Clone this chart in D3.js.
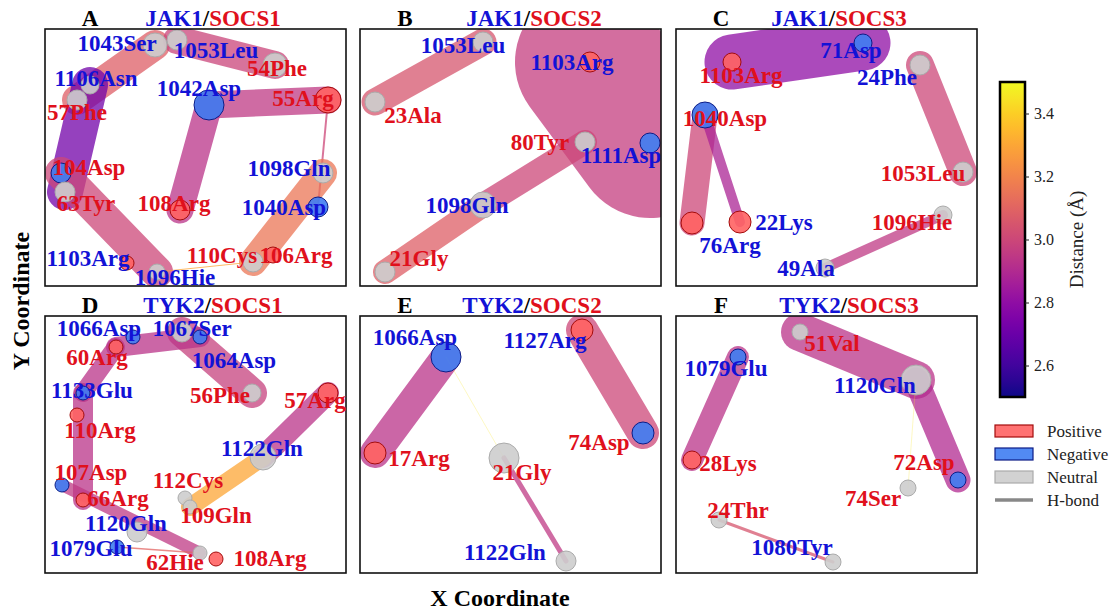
<!DOCTYPE html>
<html><head><meta charset="utf-8">
<script src="https://cdn.jsdelivr.net/npm/d3@7"></script>
<style>
body{margin:0;background:#fff}
svg{display:block}
text{font-family:"Liberation Serif","Times New Roman",serif}
</style>
</head><body>
<svg id="chart" width="1117" height="612"></svg>
<script>
// Residue contact maps: node = residue (x, y coordinate, contact size, charge,
// protein side 'k' = kinase label colour / 's' = SOCS label colour, label anchor lx, ly)
const nodesA = [
  {id:"1043Ser", x:110, y:241, n:12, q:"neu", s:"k", lx:72,  ly:243},
  {id:"1053Leu", x:132, y:246, n:10, q:"neu", s:"k", lx:171, ly:236},
  {id:"54Phe",   x:230, y:221, n:12, q:"neu", s:"s", lx:232, ly:218},
  {id:"1106Asn", x:45,  y:201, n:9,  q:"neu", s:"k", lx:51,  ly:208},
  {id:"57Phe",   x:32,  y:186, n:10, q:"neu", s:"s", lx:32,  ly:174},
  {id:"1042Asp", x:164, y:181, n:15, q:"neg", s:"k", lx:154, ly:198},
  {id:"55Arg",   x:283, y:186, n:13, q:"pos", s:"s", lx:258, ly:188},
  {id:"104Asp",  x:16,  y:113, n:10, q:"neg", s:"s", lx:44,  ly:119},
  {id:"63Tyr",   x:20,  y:94,  n:10, q:"neu", s:"s", lx:41,  ly:83},
  {id:"108Arg",  x:135, y:76,  n:10, q:"pos", s:"s", lx:129, ly:83},
  {id:"1098Gln", x:278, y:113, n:10, q:"neu", s:"k", lx:244, ly:118},
  {id:"1040Asp", x:273, y:79,  n:10, q:"neg", s:"k", lx:239, ly:79},
  {id:"110Cys",  x:208, y:24,  n:10, q:"neu", s:"s", lx:177, ly:31},
  {id:"106Arg",  x:228, y:31,  n:8,  q:"pos", s:"s", lx:251, ly:31},
  {id:"1103Arg", x:82,  y:23,  n:7,  q:"pos", s:"k", lx:43,  ly:28},
  {id:"1096Hie", x:112, y:14,  n:8,  q:"neu", s:"k", lx:130, ly:9}
];
// Contacts: mean distance (Å) and contact weight
const edgesA = [
  {a:"1043Ser", b:"57Phe",   d:3.08, w:30},
  {a:"1053Leu", b:"54Phe",   d:2.99, w:28},
  {a:"1106Asn", b:"63Tyr",   d:2.72, w:36},
  {a:"104Asp",  b:"1096Hie", d:3.0,  w:32},
  {a:"1042Asp", b:"55Arg",   d:2.95, w:27},
  {a:"1042Asp", b:"108Arg",  d:2.93, w:27},
  {a:"55Arg",   b:"1040Asp", d:3.0,  w:2},
  {a:"1098Gln", b:"110Cys",  d:3.16, w:28},
  {a:"1096Hie", b:"110Cys",  d:3.3,  w:1}
];

const nodesB = [
  {id:"1053Leu", x:123, y:244, n:10, q:"neu", s:"k", lx:103, ly:241},
  {id:"1103Arg", x:230, y:224, n:10, q:"pos", s:"k", lx:212, ly:224},
  {id:"23Ala",   x:15,  y:184, n:10, q:"neu", s:"s", lx:53,  ly:171},
  {id:"80Tyr",   x:225, y:144, n:10, q:"neu", s:"s", lx:180, ly:144},
  {id:"1111Asp", x:290, y:143, n:10, q:"neg", s:"k", lx:261, ly:131},
  {id:"1098Gln", x:123, y:81,  n:13, q:"neu", s:"k", lx:107, ly:81},
  {id:"21Gly",   x:25,  y:14,  n:10, q:"neu", s:"s", lx:59,  ly:28}
];
const edgesB = [
  {a:"1053Leu", b:"23Ala",   d:3.05, w:27},
  {a:"1103Arg", b:"1111Asp", d:2.97, w:150},
  {a:"80Tyr",   b:"1098Gln", d:3.0,  w:24},
  {a:"1098Gln", b:"21Gly",   d:3.08, w:24}
];

const nodesC = [
  {id:"71Asp",   x:187, y:243, n:9,  q:"neg", s:"k", lx:175, ly:236},
  {id:"1103Arg", x:56,  y:224, n:9,  q:"pos", s:"s", lx:65,  ly:211},
  {id:"24Phe",   x:244, y:221, n:10, q:"neu", s:"k", lx:211, ly:209},
  {id:"1040Asp", x:29,  y:171, n:13, q:"neg", s:"s", lx:49,  ly:168},
  {id:"1053Leu", x:287, y:114, n:10, q:"neu", s:"s", lx:247, ly:113},
  {id:"76Arg",   x:16,  y:63,  n:11, q:"pos", s:"k", lx:54,  ly:41},
  {id:"22Lys",   x:64,  y:64,  n:11, q:"pos", s:"k", lx:108, ly:64},
  {id:"1096Hie", x:267, y:71,  n:9,  q:"neu", s:"s", lx:236, ly:64},
  {id:"49Ala",   x:149, y:18,  n:9,  q:"neu", s:"k", lx:130, ly:18}
];
const edgesC = [
  {a:"1103Arg", b:"71Asp",   d:2.8,  w:55},
  {a:"24Phe",   b:"1053Leu", d:3.0,  w:28},
  {a:"1040Asp", b:"76Arg",   d:3.0,  w:25},
  {a:"1040Asp", b:"22Lys",   d:2.88, w:10},
  {a:"1096Hie", b:"49Ala",   d:2.95, w:10}
];

const nodesD = [
  {id:"1066Asp", x:88,  y:236, n:7,  q:"neg", s:"k", lx:54,  ly:245},
  {id:"1067Ser", x:137, y:241, n:10, q:"neu", s:"k", lx:147, ly:245},
  {id:"1064Asp", x:155, y:236, n:7,  q:"neg", s:"k", lx:189, ly:213},
  {id:"60Arg",   x:71,  y:226, n:7,  q:"pos", s:"s", lx:52,  ly:216},
  {id:"56Phe",   x:207, y:180, n:9,  q:"neu", s:"s", lx:175, ly:178},
  {id:"57Arg",   x:283, y:180, n:10, q:"pos", s:"s", lx:270, ly:173},
  {id:"1133Glu", x:38,  y:180, n:7,  q:"neg", s:"k", lx:47,  ly:183},
  {id:"110Arg",  x:32,  y:158, n:7,  q:"pos", s:"s", lx:55,  ly:143},
  {id:"1122Gln", x:218, y:116, n:13, q:"neu", s:"k", lx:217, ly:125},
  {id:"107Asp",  x:17,  y:88,  n:7,  q:"neg", s:"s", lx:46,  ly:101},
  {id:"66Arg",   x:38,  y:73,  n:7,  q:"pos", s:"s", lx:73,  ly:75},
  {id:"112Cys",  x:140, y:75,  n:7,  q:"neu", s:"s", lx:143, ly:93},
  {id:"109Gln",  x:145, y:66,  n:7,  q:"neu", s:"s", lx:171, ly:58},
  {id:"1120Gln", x:92,  y:41,  n:10, q:"neu", s:"k", lx:81,  ly:50},
  {id:"1079Glu", x:72,  y:26,  n:7,  q:"neg", s:"k", lx:46,  ly:25},
  {id:"62Hie",   x:155, y:20,  n:7,  q:"neu", s:"s", lx:130, ly:11},
  {id:"108Arg",  x:171, y:14,  n:7,  q:"pos", s:"s", lx:225, ly:15}
];
const edgesD = [
  {a:"1067Ser", b:"56Phe",   d:2.98, w:30},
  {a:"60Arg",   b:"1064Asp", d:2.93, w:20},
  {a:"60Arg",   b:"1133Glu", d:2.93, w:18},
  {a:"1133Glu", b:"66Arg",   d:2.93, w:20},
  {a:"57Arg",   b:"1122Gln", d:2.93, w:22},
  {a:"1122Gln", b:"109Gln",  d:3.3,  w:18},
  {a:"107Asp",  b:"62Hie",   d:2.95, w:12},
  {a:"1079Glu", b:"62Hie",   d:3.1,  w:1.5}
];

const nodesE = [
  {id:"1066Asp", x:86,  y:216, n:15, q:"neg", s:"k", lx:55,  ly:236},
  {id:"1127Arg", x:222, y:243, n:11, q:"pos", s:"k", lx:185, ly:233},
  {id:"74Asp",   x:283, y:140, n:11, q:"neg", s:"s", lx:239, ly:131},
  {id:"17Arg",   x:15,  y:120, n:11, q:"pos", s:"s", lx:59,  ly:115},
  {id:"21Gly",   x:144, y:115, n:15, q:"neu", s:"s", lx:162, ly:101},
  {id:"1122Gln", x:206, y:12,  n:10, q:"neu", s:"k", lx:145, ly:21}
];
const edgesE = [
  {a:"1066Asp", b:"17Arg",   d:2.93, w:30},
  {a:"1127Arg", b:"74Asp",   d:3.0,  w:32},
  {a:"21Gly",   b:"1122Gln", d:2.95, w:5},
  {a:"1066Asp", b:"21Gly",   d:3.45, w:0.8}
];

const nodesF = [
  {id:"51Val",   x:124, y:241, n:8,  q:"neu", s:"s", lx:156, ly:230},
  {id:"1079Glu", x:62,  y:216, n:8,  q:"neg", s:"k", lx:50,  ly:205},
  {id:"1120Gln", x:240, y:193, n:15, q:"neu", s:"k", lx:199, ly:188},
  {id:"28Lys",   x:16,  y:113, n:9,  q:"pos", s:"s", lx:52,  ly:110},
  {id:"72Asp",   x:282, y:93,  n:8,  q:"neg", s:"s", lx:248, ly:111},
  {id:"74Ser",   x:232, y:85,  n:8,  q:"neu", s:"s", lx:197, ly:75},
  {id:"24Thr",   x:43,  y:53,  n:8,  q:"neu", s:"s", lx:62,  ly:63},
  {id:"1080Tyr", x:157, y:11,  n:8,  q:"neu", s:"k", lx:116, ly:26}
];
const edgesF = [
  {a:"51Val",   b:"1120Gln", d:2.93, w:38},
  {a:"1120Gln", b:"72Asp",   d:2.9,  w:25},
  {a:"1079Glu", b:"28Lys",   d:2.93, w:22},
  {a:"24Thr",   b:"1080Tyr", d:3.05, w:3},
  {a:"1120Gln", b:"74Ser",   d:3.45, w:0.8}
];

const panelKeys = ["A","B","C","D","E","F"];
const kinases   = ["JAK1","JAK1","JAK1","TYK2","TYK2","TYK2"];
const socsNames = ["SOCS1","SOCS2","SOCS3","SOCS1","SOCS2","SOCS3"];
const panelNodes = [nodesA, nodesB, nodesC, nodesD, nodesE, nodesF];
const panelEdges = [edgesA, edgesB, edgesC, edgesD, edgesE, edgesF];

const colorTicks = [2.6, 2.8, 3.0, 3.2, 3.4];
const legendItems = ["Positive", "Negative", "Neutral", "H-bond"];

// ---------- drawing ----------
const svg = d3.select("#chart");
const BLUE = "#1212d6", RED = "#e0101c";
const chargeFill   = {pos:"#ff6363", neg:"#3f7df2", neu:"#cdcdcd"};
const chargeStroke = {pos:"#a30c0c", neg:"#0c1c86", neu:"#ababab"};

const distColor = d3.scaleSequential(d3.interpolatePlasma).domain([2.5, 3.5]);
const rScale = d3.scaleLinear().domain([0, 15]).range([0, 15]);
const wScale = d3.scaleLinear().domain([0, 150]).range([0, 150]);

const colLeft = [45, 360, 676], rowTop = [29, 316];
const titleShift = [0, 6, -5, 0, 4, 5];
const PW = 301, PH = 257;

panelKeys.forEach((key, i) => {
  const left = colLeft[i % 3], top = rowTop[Math.floor(i / 3)];
  const x = d3.scaleLinear().domain([0, PW]).range([left, left + PW]);
  const y = d3.scaleLinear().domain([0, PH]).range([top + PH, top]);
  const nodes = panelNodes[i], edges = panelEdges[i];
  const byId = new Map(nodes.map(d => [d.id, d]));

  const clipId = "clip" + key;
  svg.append("clipPath").attr("id", clipId)
    .append("rect").attr("x", left).attr("y", top).attr("width", PW).attr("height", PH);

  const g = svg.append("g").attr("clip-path", `url(#${clipId})`);

  g.selectAll("line.edge").data(edges).join("line")
    .attr("class", "edge")
    .attr("x1", d => x(byId.get(d.a).x)).attr("y1", d => y(byId.get(d.a).y))
    .attr("x2", d => x(byId.get(d.b).x)).attr("y2", d => y(byId.get(d.b).y))
    .attr("stroke", d => distColor(d.d))
    .attr("stroke-width", d => wScale(d.w))
    .attr("stroke-linecap", "round")
    .attr("stroke-opacity", d => d.w < 1 ? 0.35 : 0.75);

  g.selectAll("circle.res").data(nodes).join("circle")
    .attr("class", "res")
    .attr("cx", d => x(d.x)).attr("cy", d => y(d.y))
    .attr("r", d => rScale(d.n))
    .attr("fill", d => chargeFill[d.q])
    .attr("fill-opacity", 0.9)
    .attr("stroke", d => chargeStroke[d.q])
    .attr("stroke-width", 1);

  // frame
  svg.append("rect").attr("x", left).attr("y", top).attr("width", PW).attr("height", PH)
    .attr("fill", "none").attr("stroke", "#111").attr("stroke-width", 1.6);

  // residue labels
  svg.append("g").selectAll("text").data(nodes).join("text")
    .attr("x", d => x(d.lx)).attr("y", d => y(d.ly))
    .attr("dy", "0.35em")
    .attr("text-anchor", "middle")
    .attr("font-size", 23).attr("font-weight", "bold")
    .attr("fill", d => d.s === "k" ? BLUE : RED)
    .text(d => d.id);

  // panel letter and title
  svg.append("text").attr("x", left + 45).attr("y", top - 3)
    .attr("text-anchor", "middle").attr("font-size", 23).attr("font-weight", "bold")
    .attr("fill", "#000").text(key);
  const t = svg.append("text").attr("x", left + 168 + titleShift[i]).attr("y", top - 3)
    .attr("text-anchor", "middle").attr("font-size", 23).attr("font-weight", "bold");
  t.append("tspan").attr("fill", BLUE).text(kinases[i]);
  t.append("tspan").attr("fill", "#000").text("/");
  t.append("tspan").attr("fill", RED).text(socsNames[i]);
});

// axis titles
svg.append("text").attr("x", 500).attr("y", 606).attr("text-anchor", "middle")
  .attr("font-size", 24).attr("font-weight", "bold").text("X Coordinate");
svg.append("text").attr("transform", "translate(29,301) rotate(-90)").attr("text-anchor", "middle")
  .attr("font-size", 24).attr("font-weight", "bold").text("Y Coordinate");

// colour bar
const cbX = 1000, cbW = 25;
const cbY = d3.scaleLinear().domain([2.5, 3.5]).range([397, 82]);
const grad = svg.append("defs").append("linearGradient").attr("id", "plasmaGrad")
  .attr("x1", 0).attr("y1", 1).attr("x2", 0).attr("y2", 0);
d3.range(0, 1.0001, 0.05).forEach(t => {
  grad.append("stop").attr("offset", t).attr("stop-color", d3.interpolatePlasma(t));
});
svg.append("rect").attr("x", cbX).attr("y", cbY(3.5)).attr("width", cbW)
  .attr("height", cbY(2.5) - cbY(3.5)).attr("fill", "url(#plasmaGrad)")
  .attr("stroke", "#000").attr("stroke-width", 2.5);
const cbAxis = svg.append("g").attr("transform", `translate(${cbX + cbW},0)`)
  .call(d3.axisRight(cbY).tickValues(colorTicks).tickFormat(d3.format(".1f"))
    .tickSizeInner(4).tickSizeOuter(0).tickPadding(5));
cbAxis.select(".domain").remove();
cbAxis.selectAll("line").attr("stroke", "#222");
cbAxis.selectAll("text").attr("font-family", "Liberation Serif, serif")
  .attr("font-size", 16).attr("fill", "#222");
svg.append("text").attr("transform", `translate(1083,${cbY(3.0)}) rotate(-90)`)
  .attr("text-anchor", "middle").attr("font-size", 19).attr("fill", "#222")
  .text("Distance (Å)");

// legend
const lg = svg.append("g");
const legFill = ["#ff6363", "#3f7df2", "#cdcdcd"];
const legStroke = ["#a30c0c", "#0c1c86", "#ababab"];
legendItems.forEach((name, k) => {
  const yy = 431 + k * 23;
  if (k < 3) {
    lg.append("rect").attr("x", 995).attr("y", yy - 6).attr("width", 38).attr("height", 12)
      .attr("fill", legFill[k]).attr("fill-opacity", 0.9)
      .attr("stroke", legStroke[k]).attr("stroke-width", 1.2);
  } else {
    lg.append("line").attr("x1", 995).attr("x2", 1033).attr("y1", yy).attr("y2", yy)
      .attr("stroke", "#888").attr("stroke-width", 3.5);
  }
  lg.append("text").attr("x", 1047).attr("y", yy).attr("dy", "0.35em")
    .attr("font-size", 17).attr("fill", "#222").text(name);
});
</script>
</body></html>
